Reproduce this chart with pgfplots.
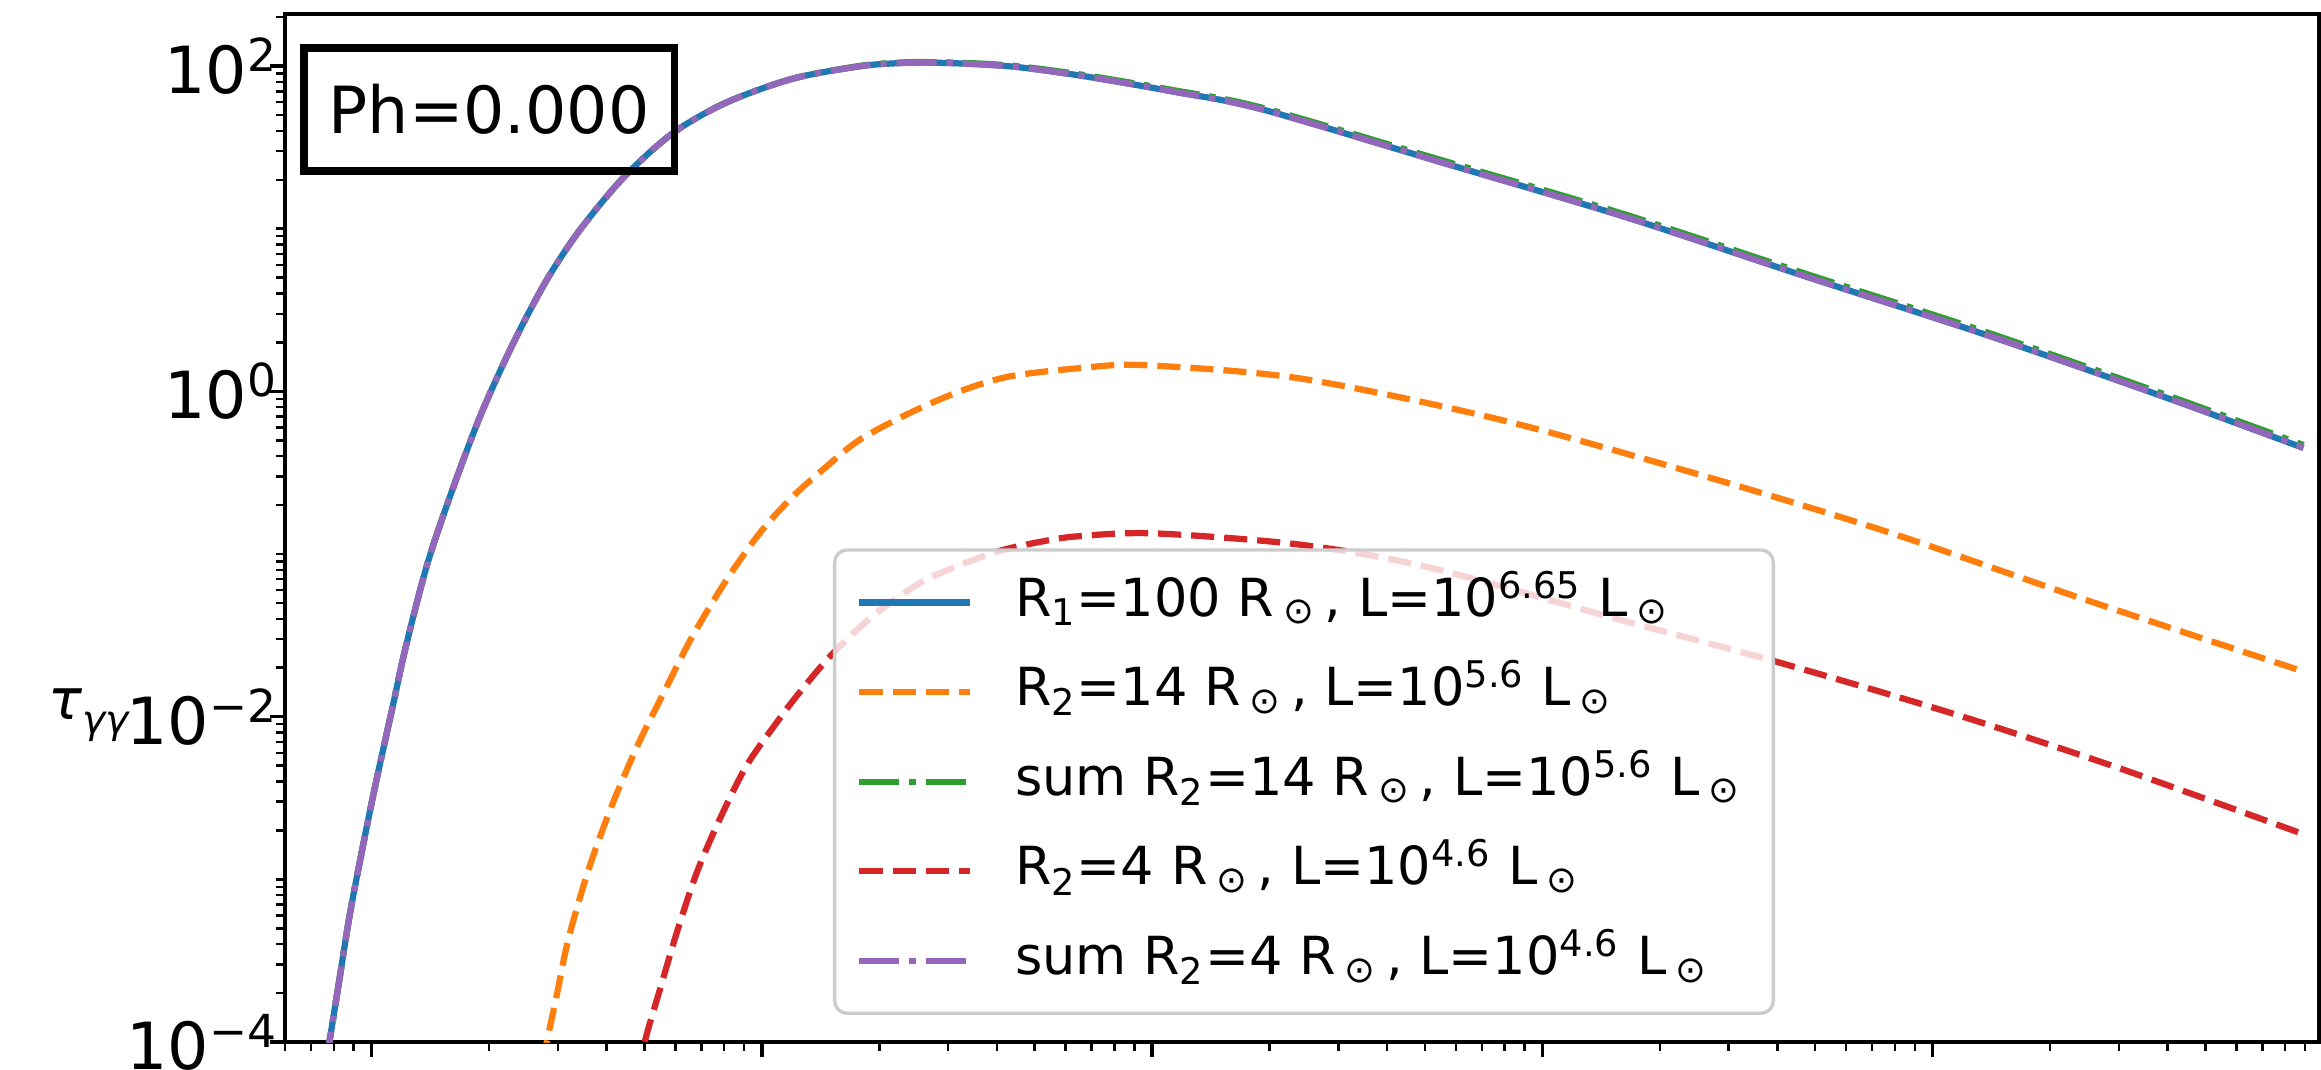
\documentclass[border=0pt]{standalone}
\usepackage{fontspec}
\setmainfont{DejaVu Sans}
\usepackage{pgfplots}
\pgfplotsset{compat=1.18}
\definecolor{c0}{HTML}{1F77B4}
\definecolor{c1}{HTML}{FF7F0E}
\definecolor{c2}{HTML}{2CA02C}
\definecolor{c3}{HTML}{D62728}
\definecolor{c4}{HTML}{9467BD}
\begin{document}
\begin{tikzpicture}
\begin{axis}[
  at={(0pt,0pt)}, anchor=south west,
  scale only axis, width=488.16pt, height=246.72pt,
  xmode=log, ymode=log,
  xmin=6, xmax=9.77e5, ymin=1e-4, ymax=209,
  axis line style={line width=0.8pt},
  tick align=outside, xtick pos=left, ytick pos=left,
  major tick length=3.6pt, minor tick length=2.2pt,
  every major tick/.style={line width=0.8pt, black},
  every minor tick/.style={line width=0.6pt, black},
  xtick={10,100,1000,10000,100000}, xticklabels={},
  minor xtick={6,7,8,9,20,30,40,50,60,70,80,90,200,300,400,500,600,700,800,900,2000,3000,4000,5000,6000,7000,8000,9000,2e4,3e4,4e4,5e4,6e4,7e4,8e4,9e4,2e5,3e5,4e5,5e5,6e5,7e5,8e5,9e5},
  ytick={1e-4,1e-2,1,100},
  yticklabels={10\textsuperscript{−4},10\textsuperscript{−2},10\textsuperscript{0},10\textsuperscript{2}},
  minor ytick={2e-4,3e-4,4e-4,5e-4,6e-4,7e-4,8e-4,9e-4,1e-3,2e-3,3e-3,4e-3,5e-3,6e-3,7e-3,8e-3,9e-3,2e-2,3e-2,4e-2,5e-2,6e-2,7e-2,8e-2,9e-2,0.1,0.2,0.3,0.4,0.5,0.6,0.7,0.8,0.9,2,3,4,5,6,7,8,9,10,20,30,40,50,60,70,80,90,200},
  yticklabel style={font=\fontsize{15.6}{18}\selectfont, xshift=5.5pt},
  legend cell align=left,
  legend style={at={(0.2694,0.0263)}, anchor=south west, draw=black!20, line width=0.8pt,
    rounded corners=3pt, fill=white, fill opacity=0.8, draw opacity=1, text opacity=1,
    font=\fontsize{12.6}{15}\selectfont, inner xsep=5.2pt, inner ysep=3pt, row sep=2.3pt,
    nodes={inner sep=0pt, text height=12.9pt, text depth=6.3pt}},
  legend image code/.code={\draw[#1] (0pt,0pt) -- (26.6pt,0pt); \path (36.6pt,0pt);},
]
\addplot[c0, line width=1.5pt, smooth] table[x=x, y=y] {
x y
7.586 6.61e-5
7.798 1.0e-4
8.222 2.213e-4
8.810 6.237e-4
9.616 1.849e-3
10.30 4.111e-3
11.38 1.216e-2
12.19 2.588e-2
13.84 8.414e-2
15.89 0.2265
18.97 0.7015
23.07 1.982
28.12 4.853
34.20 9.840
44.26 20.70
59.16 38.73
81.10 59.70
120.2 83.75
178.6 99.77
223.9 104.2
263.0 105.0
331.1 103.5
446.7 98.86
660.7 87.10
1122 69.98
1905 54.33
5623 25.23
16218 11.86
46774 5.129
138038 2.213
398107 0.912
891251 0.4487
};
\addlegendentry{R\textsubscript{1}=100 R\,\textsubscript{⊙}\,, L=10\textsuperscript{6.65} L\,\textsubscript{⊙}}
\addplot[c1, line width=1.5pt, smooth, dash pattern=on 5.55pt off 2.4pt] table[x=x, y=y] {
x y
27.54 7.413e-5
28.12 1.0e-4
29.79 1.919e-4
31.92 4.276e-4
35.97 1.148e-3
41.21 2.818e-3
48.19 6.761e-3
55.59 1.349e-2
66.07 3.055e-2
81.28 6.966e-2
98.86 0.1349
120.2 0.2265
146.6 0.3459
178.2 0.5047
239.3 0.7362
321.4 1.000
431.5 1.236
653.1 1.390
955.0 1.449
2388 1.202
7551 0.6823
23878 0.3199
75509 0.1384
239332 5.358e-2
891251 1.897e-2
};
\addlegendentry{R\textsubscript{2}=14 R\,\textsubscript{⊙}\,, L=10\textsuperscript{5.6} L\,\textsubscript{⊙}}
\addplot[c2, line width=1.5pt, smooth, dash pattern=on 9.6pt off 2.4pt on 1.5pt off 2.4pt] table[x=x, y=y] {
x y
7.586 6.61e-5
7.798 1.0e-4
8.222 2.213e-4
8.810 6.237e-4
9.616 1.849e-3
10.30 4.111e-3
11.38 1.216e-2
12.19 2.588e-2
13.84 8.414e-2
15.89 0.2265
18.97 0.7015
23.07 1.982
28.12 4.853
34.20 9.840
44.26 20.70
59.16 38.73
81.10 59.70
120.2 83.80
178.6 100.2
223.9 104.95
263.0 105.8
331.1 104.6
446.7 100.1
660.7 88.51
1122 71.39
1905 55.59
5623 26.03
16218 12.27
46774 5.329
138038 2.301
398107 0.9474
891251 0.4677
};
\addlegendentry{sum R\textsubscript{2}=14 R\,\textsubscript{⊙}\,, L=10\textsuperscript{5.6} L\,\textsubscript{⊙}\kern2.5pt\mbox{}}
\addplot[c3, line width=1.5pt, smooth, dash pattern=on 5.55pt off 2.4pt] table[x=x, y=y] {
x y
48.98 6.310e-5
50.12 1.0e-4
54.83 2.109e-4
60.53 4.699e-4
68.08 1.096e-3
77.98 2.339e-3
91.41 5.012e-3
109.6 9.333e-3
125.0 1.413e-2
152.4 2.466e-2
196.8 4.345e-2
264.2 6.966e-2
390.8 0.1016
524.8 0.1197
651.6 0.1288
1012 0.1340
2388 0.1143
5140 8.260e-2
16255 3.873e-2
39355 2.193e-2
110917 1.057e-2
291072 4.955e-3
891251 1.897e-3
};
\addlegendentry{R\textsubscript{2}=4 R\,\textsubscript{⊙}\,, L=10\textsuperscript{4.6} L\,\textsubscript{⊙}}
\addplot[c4, line width=1.5pt, smooth, dash pattern=on 9.6pt off 2.4pt on 1.5pt off 2.4pt] table[x=x, y=y] {
x y
7.586 6.61e-5
7.798 1.0e-4
8.222 2.213e-4
8.810 6.237e-4
9.616 1.849e-3
10.30 4.111e-3
11.38 1.216e-2
12.19 2.588e-2
13.84 8.414e-2
15.89 0.2265
18.97 0.7015
23.07 1.982
28.12 4.853
34.20 9.840
44.26 20.70
59.16 38.73
81.10 59.70
120.2 83.75
178.6 99.78
223.9 104.2
263.0 105.0
331.1 103.5
446.7 98.87
660.7 87.11
1122 69.99
1905 54.35
5623 25.25
16218 11.88
46774 5.140
138038 2.219
398107 0.9152
891251 0.4508
};
\addlegendentry{sum R\textsubscript{2}=4 R\,\textsubscript{⊙}\,, L=10\textsuperscript{4.6} L\,\textsubscript{⊙}}
\node[draw, line width=1.8pt, inner xsep=6pt, inner ysep=5pt, font=\fontsize{15.6}{18}\selectfont, minimum width=88.8pt, minimum height=29.6pt] at (rel axis cs:0.1004,0.9071) {Ph=0.000};
\end{axis}
\node[font=\fontsize{13.5}{16}\selectfont] at (-47pt,78.5pt) {\textit{τ}\raisebox{-0.25em}{\fontsize{9.4}{11}\selectfont\textit{γγ}}};
\pgfresetboundingbox
\useasboundingbox (-68.4pt,-6.72pt) rectangle (488.64pt,250.08pt);
\end{tikzpicture}
\end{document}
